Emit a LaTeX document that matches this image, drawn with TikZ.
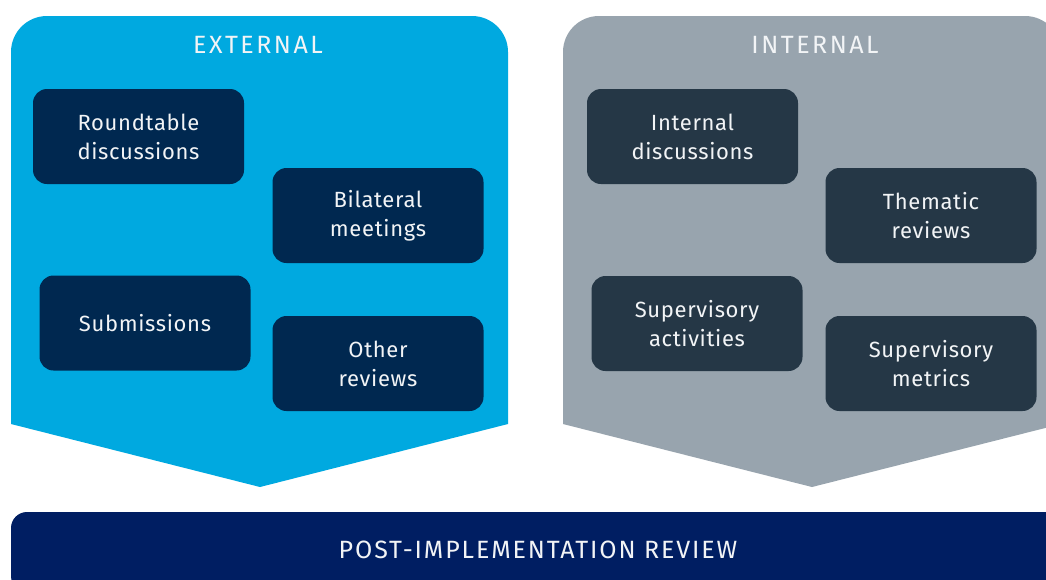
\documentclass[tikz,border=0pt]{standalone}
\usepackage{fontspec}
\setmainfont{Fira Sans}
\newfontfamily\itemfont[LetterSpace=3]{Fira Sans}
\newfontfamily\titlefont[LetterSpace=10]{Fira Sans}
\newfontfamily\barfont[LetterSpace=7.5]{Fira Sans}
\definecolor{extblue}{HTML}{00A9E0}
\definecolor{intgrey}{HTML}{98A4AE}
\definecolor{extbox}{HTML}{002850}
\definecolor{intbox}{HTML}{253746}
\definecolor{barnavy}{HTML}{001E62}
\definecolor{labelwhite}{HTML}{F2F4F6}
\tikzset{
  itembox/.style={rounded corners=14pt, minimum width=211pt, minimum height=95pt,
    inner sep=0pt, align=center, text=labelwhite,
    font=\itemfont\fontsize{22}{29}\selectfont},
  extitem/.style={itembox, fill=extbox},
  intitem/.style={itembox, fill=intbox},
  paneltitle/.style={text=labelwhite, font=\titlefont\fontsize{25}{29}\selectfont, inner sep=0pt},
  bartitle/.style={text=labelwhite, font=\barfont\fontsize{25}{29}\selectfont, inner sep=0pt},
}
\begin{document}
\begin{tikzpicture}[x=1pt,y=-1pt]
  \clip (0,0) rectangle (1046,579);
  \fill[white] (0,0) rectangle (1046,579);

  % external panel (chevron pointing down)
  \fill[extblue] (11,424) {[rounded corners=36pt] -- (11,16) -- (508,16)} -- (508,424) -- (260,487) -- cycle;
  % internal panel
  \fill[intgrey] (563,424) {[rounded corners=36pt] -- (563,16) -- (1061,16)} -- (1061,424) -- (812,487) -- cycle;
  % review bar
  \fill[barnavy, rounded corners=16pt] (11,512) rectangle (1075,592);

  \node[paneltitle] (ext) at (258,45) {EXTERNAL};
  \node[paneltitle] (int) at (815,45) {INTERNAL};

  \node[extitem] (round) at (138.5,136.5) {Roundtable\\discussions};
  \node[extitem] (bilat) at (378,215.5) {Bilateral\\meetings};
  \node[extitem] (subm)  at (145,323) {Submissions};
  \node[extitem] (other) at (378,363.5) {Other\\reviews};

  \node[intitem] (intdisc) at (692.5,136.5) {Internal\\discussions};
  \node[intitem] (thema)   at (931,215.5) {Thematic\\reviews};
  \node[intitem] (supact)  at (697,323.5) {Supervisory\\activities};
  \node[intitem] (supmet)  at (931,363.5) {Supervisory\\metrics};

  \node[bartitle] (pir) at (538,550) {POST-IMPLEMENTATION REVIEW};
\end{tikzpicture}
\end{document}
